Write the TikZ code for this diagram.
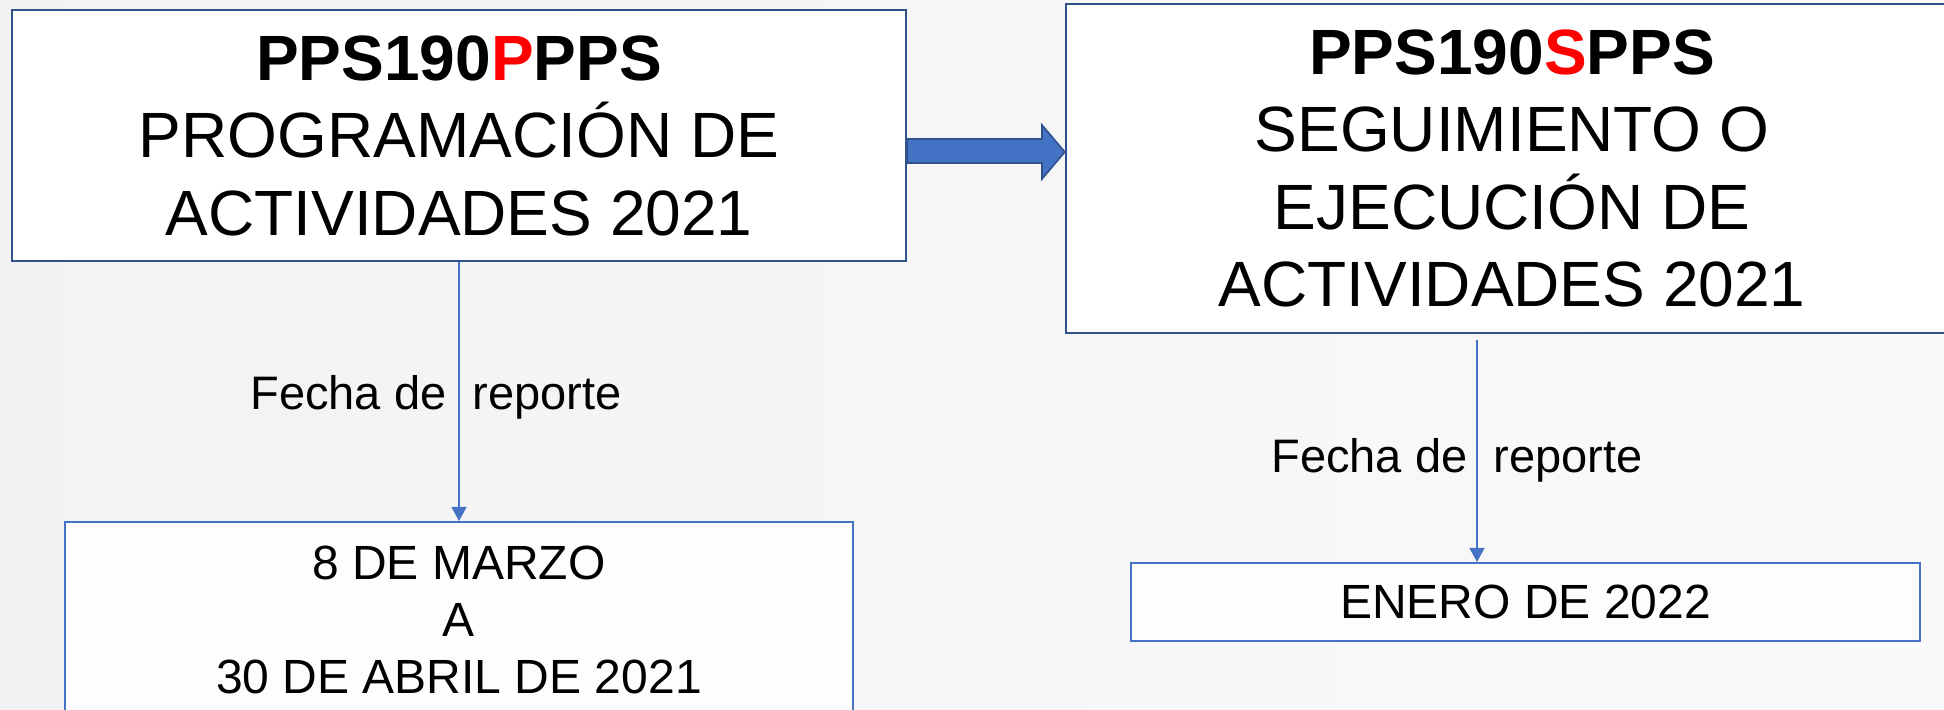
\documentclass[tikz,border=0pt]{standalone}
\usepackage{fontspec}
\setmainfont{Liberation Sans}
\usepackage{xcolor}
\usetikzlibrary{positioning,arrows.meta,calc}
\definecolor{boxedge}{HTML}{2F528F}
\definecolor{accent}{HTML}{4472C4}

\begin{document}
\begin{tikzpicture}[
  x=0.5pt, y=-0.5pt,
  titlebox/.style={draw=boxedge, line width=1.2pt, fill=white, align=center, inner sep=0pt,
                   font=\fontsize{32}{38.75}\selectfont},
  datebox/.style={draw=accent, line width=1pt, fill=white!70!black!2, align=center, inner sep=0pt,
                  font=\fontsize{24}{28.5}\selectfont},
  lbl/.style={font=\fontsize{23.5}{28}\selectfont, inner sep=0pt},
  link/.style={-{Triangle[length=7pt,width=7.5pt]}, draw=accent, line width=0.6pt},
  blockarr/.style={draw=boxedge, line width=0.8pt, fill=accent},
]
\useasboundingbox (0,0) rectangle (1944,710);
\shade[left color=black!5, right color=black!2] (0,0) rectangle (1944,710);

% titulos
\node[titlebox, minimum width=447pt, minimum height=125.5pt] (prog) at (459,135.5)
  {\textbf{PPS190\textcolor{red}{P}PPS}\\PROGRAMACIÓN DE\\ACTIVIDADES 2021};
\node[titlebox, minimum width=446pt, minimum height=164.5pt] (segu) at (1512,168.5)
  {\textbf{PPS190\textcolor{red}{S}PPS}\\SEGUIMIENTO O\\EJECUCIÓN DE\\ACTIVIDADES 2021};

% fechas
\node[datebox, minimum width=394pt, minimum height=98pt] (fprog) at (459,620)
  {8 DE MARZO\\A\\30 DE ABRIL DE 2021};
\node[datebox, minimum width=394.5pt, minimum height=39pt] (fsegu) at (1525.5,602)
  {ENERO DE 2022};

\node[lbl] (lprog) at (436,397) {Fecha de\ \ reporte};
\node[lbl] (lsegu) at (1457,460) {Fecha de\ \ reporte};

\coordinate (rx) at (1477,0);
\draw[link] (prog.south) -- (fprog.north);
\draw[link] ([yshift=-3pt]segu.south -| rx) -- (fsegu.north -| rx);

\draw[blockarr] (prog.east |- 0,139) -- (1042,139) -- (1042,125)
  -- (segu.west |- 0,152) -- (1042,179) -- (1042,163) -- (prog.east |- 0,163) -- cycle;
\end{tikzpicture}
\end{document}
